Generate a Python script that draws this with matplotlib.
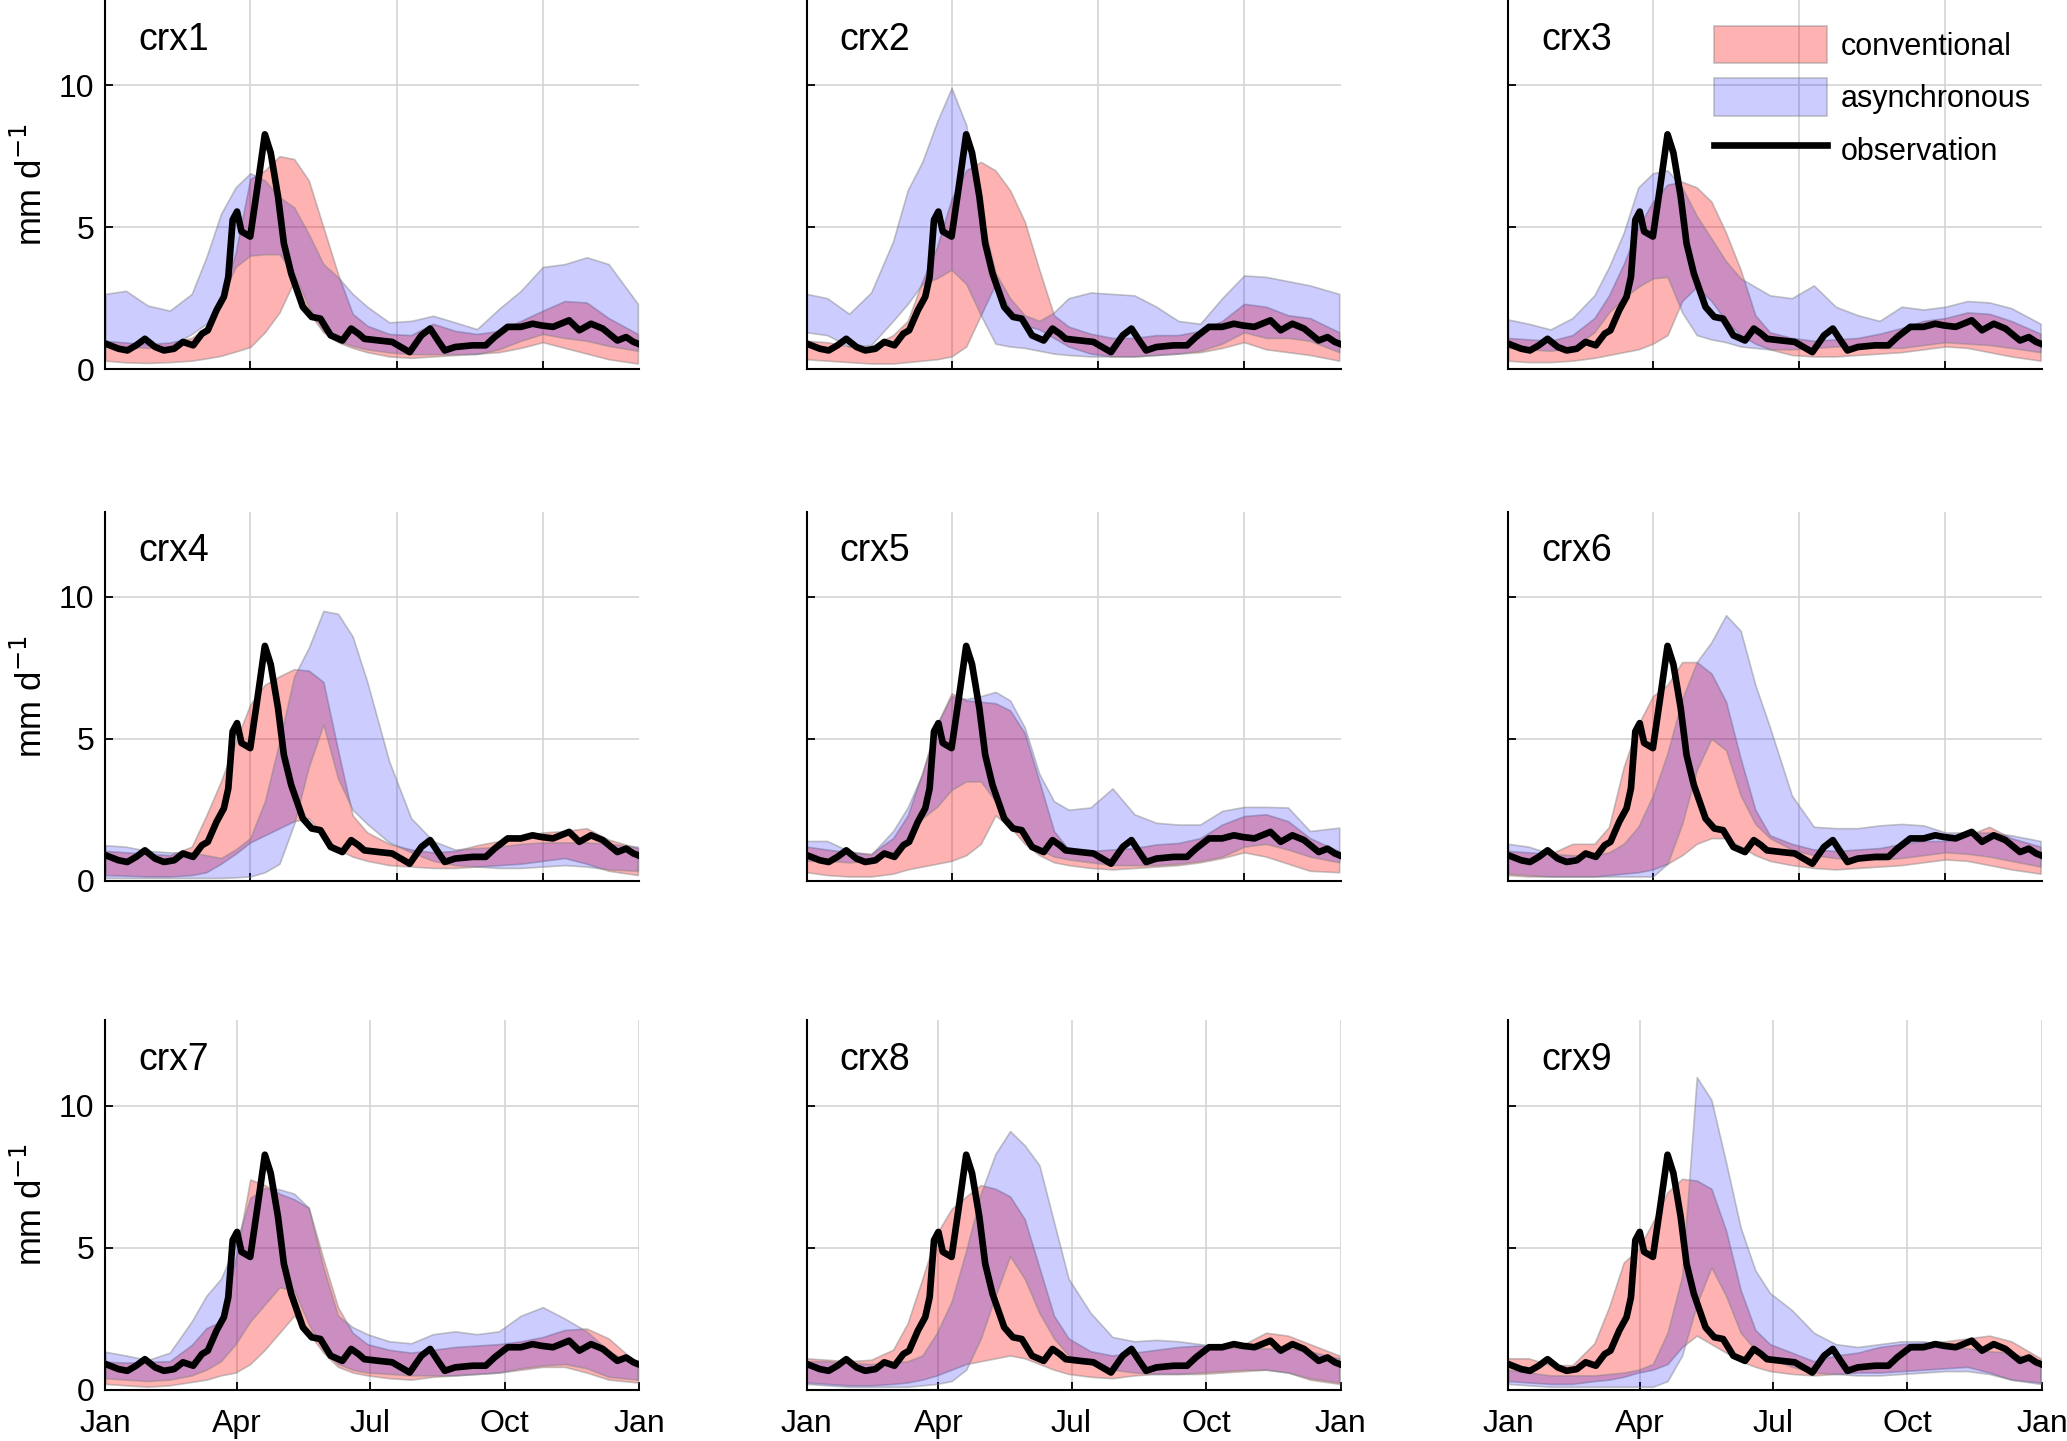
import matplotlib.pyplot as plt
from matplotlib.patches import Patch
from matplotlib.lines import Line2D

plt.rcParams['font.family'] = ['Liberation Sans', 'DejaVu Sans']

# day of year where the ensemble bands are read
days = [1, 15, 30, 45, 60, 70, 80, 90, 100, 110, 120, 130, 140, 150, 160,
        170, 180, 195, 210, 225, 240, 255, 270, 285, 300, 315, 330, 345, 365]

# observed runoff (same in every panel)
obs_days = [1, 10, 16, 22, 28, 35, 41, 48, 54, 61, 67, 71, 77, 82, 85, 88, 91, 94,
            100, 105, 110, 114, 119, 123, 128, 136, 142, 148, 155, 163, 169, 174,
            178, 188, 197, 209, 217, 223, 229, 233, 240, 252, 261, 267, 276, 285,
            293, 299, 307, 318, 325, 333, 341, 351, 357, 362, 365]
obs_vals = [0.9, 0.72, 0.66, 0.84, 1.07, 0.78, 0.66, 0.72, 0.96, 0.84, 1.25, 1.37,
            2.08, 2.55, 3.25, 5.26, 5.55, 4.85, 4.67, 6.44, 8.27, 7.62, 6.08, 4.43,
            3.37, 2.19, 1.84, 1.78, 1.19, 1.01, 1.43, 1.25, 1.07, 1.01, 0.96, 0.6,
            1.19, 1.43, 0.96, 0.66, 0.78, 0.84, 0.84, 1.13, 1.49, 1.49, 1.6, 1.54,
            1.49, 1.72, 1.37, 1.6, 1.43, 1.01, 1.13, 0.96, 0.9]

names = ['crx1', 'crx2', 'crx3', 'crx4', 'crx5', 'crx6', 'crx7', 'crx8', 'crx9']

# conventional calibration band (lower / upper), one row per panel
conv_low = [
    [0.3, 0.24, 0.22, 0.25, 0.3, 0.38, 0.47, 0.62, 0.78, 1.3, 2.0, 3.1, 2.0, 1.3, 0.95, 0.75, 0.6, 0.45, 0.4, 0.45, 0.5, 0.55, 0.6, 0.75, 0.95, 0.75, 0.55, 0.35, 0.2],
    [0.35, 0.3, 0.25, 0.2, 0.2, 0.25, 0.3, 0.35, 0.45, 0.8, 1.9, 3.0, 2.1, 1.55, 1.4, 1.1, 0.8, 0.55, 0.45, 0.45, 0.5, 0.55, 0.6, 0.75, 0.95, 0.7, 0.6, 0.5, 0.3],
    [0.3, 0.25, 0.25, 0.3, 0.4, 0.5, 0.6, 0.7, 0.9, 1.2, 2.4, 2.9, 2.4, 1.7, 1.2, 0.9, 0.7, 0.5, 0.45, 0.45, 0.5, 0.55, 0.6, 0.7, 0.8, 0.75, 0.6, 0.45, 0.3],
    [0.2, 0.18, 0.15, 0.15, 0.2, 0.3, 0.6, 0.95, 1.35, 1.6, 1.85, 2.1, 2.2, 1.6, 1.1, 0.85, 0.7, 0.55, 0.5, 0.45, 0.45, 0.5, 0.55, 0.6, 0.7, 0.8, 0.6, 0.35, 0.2],
    [0.3, 0.2, 0.15, 0.15, 0.25, 0.4, 0.5, 0.6, 0.7, 0.9, 1.3, 2.3, 1.9, 1.3, 0.9, 0.65, 0.55, 0.45, 0.4, 0.45, 0.5, 0.55, 0.65, 0.8, 1.0, 0.85, 0.6, 0.35, 0.3],
    [0.2, 0.15, 0.15, 0.15, 0.15, 0.2, 0.25, 0.3, 0.4, 0.6, 0.9, 1.3, 1.5, 1.5, 1.2, 0.9, 0.7, 0.55, 0.45, 0.4, 0.45, 0.5, 0.55, 0.65, 0.75, 0.7, 0.55, 0.4, 0.25],
    [0.2, 0.15, 0.1, 0.15, 0.27, 0.35, 0.5, 0.6, 0.9, 1.4, 2.0, 2.6, 2.0, 1.3, 0.8, 0.6, 0.5, 0.4, 0.35, 0.45, 0.5, 0.55, 0.6, 0.7, 0.8, 0.8, 0.6, 0.35, 0.25],
    [0.25, 0.2, 0.15, 0.15, 0.2, 0.25, 0.35, 0.5, 0.7, 0.9, 1.0, 1.1, 1.2, 1.1, 0.9, 0.7, 0.55, 0.45, 0.4, 0.5, 0.55, 0.55, 0.55, 0.6, 0.65, 0.7, 0.6, 0.35, 0.2],
    [0.3, 0.25, 0.2, 0.2, 0.3, 0.35, 0.45, 0.6, 0.7, 0.9, 1.5, 1.9, 1.6, 1.3, 1.0, 0.8, 0.65, 0.55, 0.5, 0.55, 0.6, 0.6, 0.65, 0.7, 0.75, 0.8, 0.6, 0.35, 0.25],
]
conv_high = [
    [1.0, 0.94, 0.88, 0.94, 1.1, 1.5, 2.4, 4.1, 6.7, 7.0, 7.5, 7.4, 6.65, 5.0, 3.35, 1.95, 1.53, 1.24, 1.2, 1.6, 1.35, 1.24, 1.35, 1.7, 2.06, 2.4, 2.35, 1.8, 1.24],
    [1.0, 0.95, 0.8, 0.8, 1.2, 1.7, 3.1, 4.3, 6.0, 7.0, 7.3, 7.0, 6.3, 5.2, 3.5, 1.9, 1.5, 1.25, 1.1, 1.1, 1.2, 1.2, 1.35, 1.7, 2.3, 2.2, 1.9, 1.8, 1.3],
    [1.1, 1.05, 1.0, 1.2, 1.8, 2.6, 3.7, 5.0, 5.9, 6.5, 6.6, 6.4, 5.9, 4.8, 3.5, 1.9, 1.3, 1.1, 1.0, 1.05, 1.1, 1.25, 1.45, 1.7, 1.8, 2.0, 1.95, 1.7, 1.25],
    [1.05, 1.0, 0.95, 0.9, 1.2, 2.3, 3.5, 4.9, 6.2, 6.9, 7.2, 7.45, 7.4, 7.0, 4.6, 2.3, 1.7, 1.3, 1.1, 1.0, 1.05, 1.25, 1.4, 1.55, 1.7, 1.75, 1.85, 1.45, 1.15],
    [1.2, 1.1, 1.0, 0.95, 1.5, 2.3, 3.8, 5.5, 6.6, 6.35, 6.3, 6.25, 6.0, 5.2, 3.5, 1.75, 1.1, 1.05, 1.1, 1.15, 1.28, 1.33, 1.5, 1.98, 2.28, 2.34, 2.1, 1.5, 1.04],
    [1.05, 1.0, 0.95, 1.3, 1.3, 1.9, 4.0, 5.5, 6.5, 6.9, 7.7, 7.7, 7.3, 6.3, 4.3, 2.5, 1.6, 1.3, 1.1, 1.05, 1.1, 1.15, 1.3, 1.4, 1.4, 1.6, 1.9, 1.5, 1.2],
    [0.98, 0.95, 0.98, 1.0, 1.57, 2.16, 2.4, 4.6, 7.4, 7.2, 6.9, 6.7, 6.4, 4.6, 2.9, 2.0, 1.6, 1.4, 1.3, 1.4, 1.5, 1.55, 1.6, 1.7, 1.85, 2.1, 2.15, 1.8, 0.9],
    [1.1, 1.05, 1.0, 1.05, 1.4, 2.34, 3.9, 5.5, 6.36, 6.8, 7.2, 7.07, 6.8, 6.0, 4.3, 2.6, 1.8, 1.35, 1.2, 1.3, 1.4, 1.5, 1.55, 1.5, 1.6, 2.0, 1.9, 1.6, 1.2],
    [1.1, 1.1, 0.86, 0.86, 1.63, 2.9, 4.47, 4.94, 5.9, 6.95, 7.42, 7.36, 7.07, 5.6, 3.5, 2.1, 1.6, 1.3, 1.0, 1.2, 1.3, 1.5, 1.6, 1.65, 1.7, 1.8, 1.9, 1.7, 1.1],
]

# asynchronous calibration band (lower / upper)
async_low = [
    [0.85, 0.8, 0.75, 0.8, 1.24, 1.6, 2.5, 3.6, 4.0, 4.05, 4.05, 3.35, 2.2, 1.35, 1.0, 0.82, 0.7, 0.59, 0.53, 0.53, 0.53, 0.53, 0.7, 1.0, 1.24, 1.1, 1.0, 0.82, 0.65],
    [1.3, 1.2, 0.8, 0.85, 1.7, 2.3, 3.0, 3.2, 3.5, 3.0, 1.9, 0.9, 0.8, 0.75, 0.65, 0.55, 0.5, 0.45, 0.45, 0.45, 0.5, 0.55, 0.65, 0.9, 1.3, 1.1, 1.1, 1.0, 0.6],
    [0.75, 0.7, 0.65, 0.75, 1.3, 2.0, 2.5, 2.9, 3.2, 3.25, 2.0, 1.2, 1.05, 0.95, 0.8, 0.75, 0.7, 0.7, 0.75, 0.8, 0.8, 0.75, 0.75, 0.85, 0.95, 0.9, 0.85, 0.75, 0.6],
    [0.1, 0.1, 0.1, 0.1, 0.1, 0.1, 0.1, 0.12, 0.15, 0.3, 0.6, 2.0, 4.0, 5.5, 3.6, 2.5, 2.0, 1.35, 1.0, 0.7, 0.55, 0.5, 0.45, 0.45, 0.5, 0.55, 0.5, 0.4, 0.35],
    [0.7, 0.7, 0.65, 0.7, 1.0, 1.5, 2.2, 2.6, 3.2, 3.5, 3.5, 2.8, 2.1, 1.5, 1.1, 0.85, 0.75, 0.65, 0.55, 0.55, 0.55, 0.6, 0.7, 0.85, 1.2, 1.3, 1.1, 0.85, 0.65],
    [0.25, 0.2, 0.15, 0.15, 0.15, 0.15, 0.15, 0.15, 0.15, 0.6, 2.0, 3.9, 5.0, 4.6, 3.0, 2.0, 1.5, 1.1, 0.9, 0.8, 0.75, 0.75, 0.8, 0.9, 1.0, 0.95, 0.85, 0.7, 0.5],
    [0.4, 0.35, 0.3, 0.35, 0.5, 0.7, 1.0, 1.6, 2.4, 3.0, 3.6, 3.5, 2.3, 1.4, 0.9, 0.7, 0.6, 0.55, 0.5, 0.5, 0.5, 0.55, 0.6, 0.75, 0.85, 0.9, 0.75, 0.45, 0.35],
    [0.2, 0.15, 0.1, 0.1, 0.1, 0.1, 0.15, 0.2, 0.3, 0.7, 1.8, 3.3, 4.7, 3.9, 2.7, 1.8, 1.2, 0.9, 0.7, 0.6, 0.55, 0.55, 0.6, 0.65, 0.7, 0.7, 0.6, 0.4, 0.25],
    [0.2, 0.15, 0.1, 0.1, 0.1, 0.1, 0.1, 0.1, 0.1, 0.3, 1.2, 3.0, 4.3, 3.3, 2.0, 1.4, 1.1, 0.8, 0.6, 0.55, 0.5, 0.5, 0.55, 0.6, 0.65, 0.65, 0.55, 0.35, 0.2],
]
async_high = [
    [2.65, 2.76, 2.24, 2.06, 2.65, 3.94, 5.47, 6.4, 6.9, 6.65, 6.06, 5.7, 4.76, 3.7, 3.24, 2.65, 2.2, 1.65, 1.7, 1.88, 1.65, 1.41, 2.12, 2.76, 3.6, 3.7, 3.94, 3.7, 2.3],
    [2.65, 2.5, 1.95, 2.7, 4.5, 6.3, 7.3, 8.7, 9.9, 8.6, 5.5, 3.4, 2.5, 1.9, 1.7, 2.0, 2.5, 2.7, 2.65, 2.6, 2.2, 1.7, 1.6, 2.5, 3.3, 3.25, 3.1, 2.95, 2.65],
    [1.75, 1.6, 1.4, 1.8, 2.6, 3.6, 4.8, 6.4, 6.9, 7.0, 6.4, 5.4, 4.6, 3.8, 3.2, 2.9, 2.6, 2.5, 2.95, 2.2, 1.9, 1.7, 2.2, 2.1, 2.2, 2.4, 2.35, 2.15, 1.6],
    [1.25, 1.2, 1.05, 1.0, 1.0, 0.9, 0.8, 1.1, 1.5, 2.8, 4.9, 7.2, 8.2, 9.5, 9.4, 8.6, 7.0, 4.2, 2.2, 1.4, 1.1, 1.15, 1.2, 1.3, 1.35, 1.35, 1.35, 1.3, 1.2],
    [1.4, 1.4, 1.04, 0.92, 1.75, 2.58, 3.76, 5.5, 6.5, 6.4, 6.5, 6.65, 6.35, 5.4, 3.76, 2.8, 2.5, 2.58, 3.25, 2.34, 2.04, 1.98, 1.98, 2.46, 2.6, 2.6, 2.58, 1.75, 1.87],
    [1.3, 1.2, 0.95, 0.9, 0.9, 1.0, 1.3, 1.9, 3.0, 4.5, 6.4, 7.7, 8.4, 9.35, 8.8, 6.9, 5.4, 3.0, 1.9, 1.85, 1.85, 1.95, 2.0, 1.95, 1.7, 1.7, 1.7, 1.6, 1.4],
    [1.33, 1.2, 1.04, 1.3, 2.4, 3.3, 3.9, 5.1, 6.75, 7.1, 7.05, 6.9, 6.4, 4.3, 2.6, 2.2, 1.95, 1.7, 1.63, 1.95, 2.05, 1.95, 2.05, 2.6, 2.9, 2.5, 2.05, 1.37, 0.78],
    [1.0, 1.0, 0.95, 0.9, 0.95, 1.0, 1.2, 2.0, 3.1, 4.9, 6.9, 8.3, 9.1, 8.6, 7.9, 5.9, 3.9, 2.7, 1.85, 1.7, 1.75, 1.7, 1.6, 1.5, 1.45, 1.45, 1.45, 1.35, 1.1],
    [0.7, 0.6, 0.5, 0.5, 0.5, 0.55, 0.6, 0.7, 0.9, 2.0, 4.0, 11.0, 10.2, 8.0, 5.7, 4.2, 3.4, 2.8, 2.0, 1.6, 1.5, 1.6, 1.7, 1.7, 1.55, 1.45, 1.35, 1.3, 0.95],
]

month_ticks = [1, 91, 182, 274, 366]
month_labels = ['Jan', 'Apr', 'Jul', 'Oct', 'Jan']

red_fill = (1, 0, 0, 0.3)
blue_fill = (0, 0, 1, 0.2)
edge = (0.5, 0.5, 0.5, 0.45)

fig = plt.figure(figsize=(20.67, 14.41), dpi=100)
lefts = [0.051, 0.3903, 0.7296]
bottoms = [0.7438, 0.3888, 0.0357]
w, h = 0.2583, 0.2562

for i in range(9):
    r, c = divmod(i, 3)
    ax = fig.add_axes([lefts[c], bottoms[r], w, h])
    ax.fill_between(days, conv_low[i], conv_high[i], facecolor=red_fill,
                    edgecolor=edge, linewidth=1.2)
    ax.fill_between(days, async_low[i], async_high[i], facecolor=blue_fill,
                    edgecolor=edge, linewidth=1.2)
    ax.plot(obs_days, obs_vals, color='k', linewidth=4.8)

    ax.set_xlim(1, 366)
    ax.set_ylim(0, 13)
    ax.set_yticks([0, 5, 10])
    if r < 2:
        # top rows keep the plain numeric ticks of the day axis
        ax.set_xticks([100, 200, 300])
        ax.set_xticklabels([])
    else:
        ax.set_xticks(month_ticks)
        ax.set_xticklabels(month_labels)
    if c > 0:
        ax.set_yticklabels([])
    else:
        ax.set_ylabel('mm d$^{-1}$', fontsize=25)
        ax.yaxis.set_label_coords(-0.105, 0.5)

    ax.grid(True, color='#d4d4d4', linewidth=1.2)
    ax.set_axisbelow(True)
    for s in ['top', 'right']:
        ax.spines[s].set_visible(False)
    for s in ['left', 'bottom']:
        ax.spines[s].set_linewidth(1.5)
    ax.tick_params(direction='in', length=6, width=1.3, labelsize=23)
    ax.tick_params(axis='x', pad=14)
    ax.tick_params(axis='y', pad=8)

    ax.text(0.062, 0.893, names[i], transform=ax.transAxes, fontsize=27,
            ha='left', va='center')

    if i == 2:
        handles = [Patch(facecolor=red_fill, edgecolor=edge, linewidth=1.2),
                   Patch(facecolor=blue_fill, edgecolor=edge, linewidth=1.2),
                   Line2D([], [], color='k', linewidth=4.8)]
        ax.legend(handles, ['conventional', 'asynchronous', 'observation'],
                  loc='upper left', bbox_to_anchor=(0.385, 0.93), frameon=False,
                  fontsize=22, handlelength=3.7, handleheight=1.5,
                  labelspacing=0.5, handletextpad=0.45, borderpad=0,
                  borderaxespad=0)

fig.savefig('out.png', dpi=100)
